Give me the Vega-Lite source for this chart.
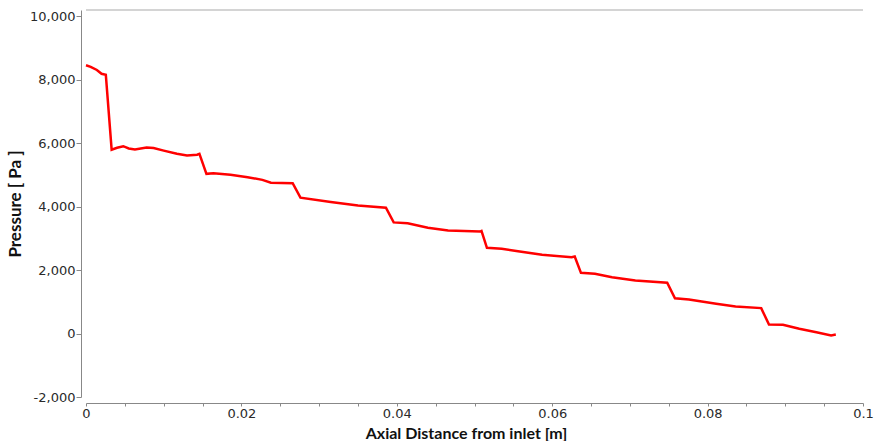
{
  "$schema": "https://vega.github.io/schema/vega-lite/v6.json",
  "autosize": "none",
  "padding": {"left": 86, "top": 10, "right": 14, "bottom": 44},
  "width": 777,
  "height": 387,
  "background": "white",
  "config": {"view": {"stroke": null}},
  "data": {"values": [
    {"x": 0.0, "p": 8450},
    {"x": 0.0006, "p": 8400},
    {"x": 0.0014, "p": 8300},
    {"x": 0.002, "p": 8180},
    {"x": 0.00255, "p": 8150},
    {"x": 0.0033, "p": 5790},
    {"x": 0.004, "p": 5850},
    {"x": 0.0048, "p": 5900},
    {"x": 0.0055, "p": 5830},
    {"x": 0.0063, "p": 5800},
    {"x": 0.0078, "p": 5860},
    {"x": 0.0087, "p": 5840},
    {"x": 0.01, "p": 5760},
    {"x": 0.0117, "p": 5660},
    {"x": 0.013, "p": 5610},
    {"x": 0.0143, "p": 5630},
    {"x": 0.0146, "p": 5660},
    {"x": 0.0155, "p": 5030},
    {"x": 0.0164, "p": 5050},
    {"x": 0.0186, "p": 5000},
    {"x": 0.0208, "p": 4925},
    {"x": 0.0227, "p": 4840},
    {"x": 0.0238, "p": 4750},
    {"x": 0.0266, "p": 4735},
    {"x": 0.0276, "p": 4280},
    {"x": 0.0315, "p": 4140},
    {"x": 0.035, "p": 4030},
    {"x": 0.0386, "p": 3960},
    {"x": 0.0396, "p": 3500},
    {"x": 0.0414, "p": 3470},
    {"x": 0.044, "p": 3330},
    {"x": 0.0466, "p": 3245},
    {"x": 0.0507, "p": 3210},
    {"x": 0.0509, "p": 3230},
    {"x": 0.0516, "p": 2700},
    {"x": 0.0535, "p": 2670},
    {"x": 0.0556, "p": 2590},
    {"x": 0.0587, "p": 2480},
    {"x": 0.0625, "p": 2400},
    {"x": 0.0629, "p": 2425},
    {"x": 0.0637, "p": 1910},
    {"x": 0.0655, "p": 1880},
    {"x": 0.0677, "p": 1775},
    {"x": 0.0707, "p": 1670},
    {"x": 0.0748, "p": 1600},
    {"x": 0.0758, "p": 1110},
    {"x": 0.0776, "p": 1070},
    {"x": 0.0811, "p": 935},
    {"x": 0.0836, "p": 850},
    {"x": 0.0869, "p": 800},
    {"x": 0.0879, "p": 285},
    {"x": 0.0897, "p": 275},
    {"x": 0.0918, "p": 150},
    {"x": 0.094, "p": 40},
    {"x": 0.0959, "p": -60},
    {"x": 0.0965, "p": -30}
  ]},
  "layer": [
    {
      "mark": {"type": "rule", "color": "#d4d4d4", "strokeWidth": 2},
      "encoding": {"y": {"datum": 10190, "type": "quantitative"}}
    },
    {
      "mark": {"type": "line", "color": "#ff0000", "strokeWidth": 2.5, "interpolate": "linear"},
      "encoding": {
        "x": {
          "field": "x", "type": "quantitative",
          "scale": {"domain": [0, 0.1], "nice": false, "zero": false},
          "axis": {
            "title": "Axial Distance from inlet [m]",
            "values": [0, 0.005, 0.01, 0.015, 0.02, 0.025, 0.03, 0.035, 0.04, 0.045, 0.05, 0.055, 0.06, 0.065, 0.07, 0.075, 0.08, 0.085, 0.09, 0.095, 0.1],
            "labelExpr": "round(datum.value * 1000) % 20 == 0 ? format(datum.value, '~g') : ''",
            "offset": 6,
            "grid": false,
            "domainColor": "#888888",
            "tickColor": "#888888",
            "tickSize": 3,
            "labelFont": "DejaVu Sans",
            "labelFontSize": 13,
            "labelColor": "#2a2a2a",
            "labelPadding": 1,
            "labelFlush": false,
            "titleFont": "Lato",
            "titleFontSize": 16,
            "titleFontWeight": "bold",
            "titleColor": "#111111",
            "titleX": 380,
            "titleY": 30,
            "titleBaseline": "middle"
          }
        },
        "y": {
          "field": "p", "type": "quantitative",
          "scale": {"domain": [-2000, 10190], "nice": false, "zero": false},
          "axis": {
            "title": "Pressure [ Pa ]",
            "values": [-2000, -1500, -1000, -500, 0, 500, 1000, 1500, 2000, 2500, 3000, 3500, 4000, 4500, 5000, 5500, 6000, 6500, 7000, 7500, 8000, 8500, 9000, 9500, 10000],
            "labelExpr": "datum.value % 2000 == 0 ? (datum.value < 0 ? '-' + format(-datum.value, ',') : format(datum.value, ',')) : ''",
            "offset": 5,
            "grid": false,
            "domainColor": "#888888",
            "tickColor": "#888888",
            "tickSize": 5,
            "labelFont": "DejaVu Sans",
            "labelFontSize": 13,
            "labelColor": "#2a2a2a",
            "labelPadding": 1,
            "labelFlush": false,
            "titleFont": "Lato",
            "titleFontSize": 17,
            "titleFontWeight": "bold",
            "titleColor": "#111111",
            "titleX": -66,
            "titleBaseline": "middle"
          }
        }
      }
    }
  ]
}
